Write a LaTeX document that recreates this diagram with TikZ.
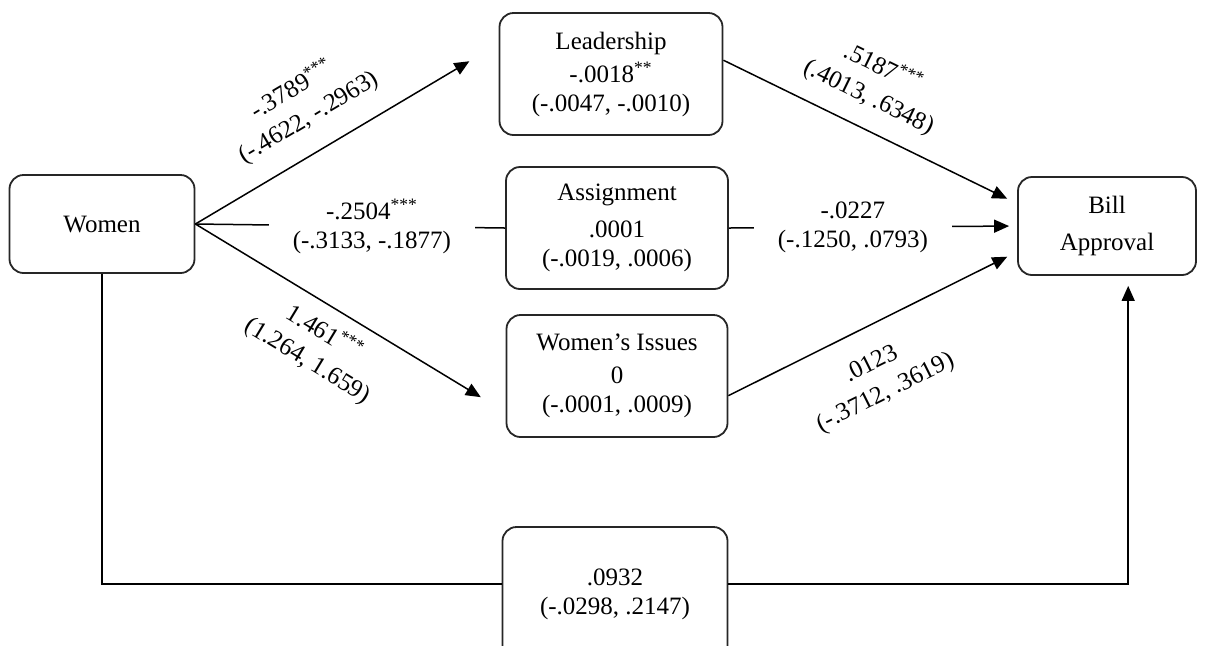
\documentclass[tikz,border=0pt]{standalone}
\usepackage{fontspec}
\setmainfont{Liberation Serif}
\usetikzlibrary{arrows.meta}
\begin{document}
\begin{tikzpicture}[x=0.5pt,y=-0.5pt,
	varbox/.style={rectangle,rounded corners=7pt,draw=black!85,line width=0.9pt,align=center,inner sep=0pt,font=\fontsize{12.5}{14.5}\selectfont},
	coef/.style={align=center,font=\fontsize{12.5}{14.5}\selectfont},
	slopecoef/.style={coef,sloped,font=\fontsize{12.5}{16}\selectfont},
	gap/.style={coef,fill=white,inner xsep=12pt,inner ysep=1pt},
	arr/.style={line width=0.75pt,-{Triangle[length=7.5pt,width=6.5pt]}},
	bare/.style={line width=0.75pt}]
	\useasboundingbox (0,0) rectangle (1208,645);

	\node 	(women)		at	(102,224)	[varbox,minimum width=92.5pt,minimum height=49pt]{Women};
	\node 	(lead)		at	(611,74)	[varbox,minimum width=111.5pt,minimum height=61pt]{Leadership\\[2pt]-.0018\textsuperscript{**}\\(-.0047, -.0010)};
	\node 	(asg)		at	(617,228)	[varbox,minimum width=111pt,minimum height=61pt]{Assignment\\[4pt].0001\\(-.0019, .0006)};
	\node 	(wiss)		at	(617,376)	[varbox,minimum width=110.5pt,minimum height=61pt]{Women’s Issues\\[2pt]0\\(-.0001, .0009)};
	\node 	(bill)		at	(1107,226)	[varbox,minimum width=89pt,minimum height=49pt]{Bill\\[4pt]Approval};
	\node 	(direct)	at	(615,594)	[varbox,minimum width=112.5pt,minimum height=67pt]{.0932\\(-.0298, .2147)};

	\draw[arr,shorten >=17pt] (women.east) -- (lead.165)
		node[slopecoef,above=7pt,pos=.43]{-.3789\textsuperscript{***}\\(-.4622, -.2963)};
	\draw[bare] (women.east) -- (asg.west)
		node[gap,pos=.57]{-.2504\textsuperscript{***}\\(-.3133, -.1877)};
	\draw[arr,shorten >=14.5pt] (women.east) -- (wiss.198)
		node[slopecoef,below=3pt,pos=.46]{1.461\textsuperscript{***}\\(1.264, 1.659)};

	\draw[arr,shorten >=5.5pt] (lead.7) -- (bill.166)
		node[slopecoef,above=5.5pt,pos=.45]{.5187\textsuperscript{***}\\(.4013, .6348)};
	\draw[arr,shorten >=4pt] (asg.east) -- (bill.west)
		node[gap,pos=.43]{-.0227\\(-.1250, .0793)};
	\draw[arr,shorten >=5.5pt] (wiss.-10) -- (bill.196)
		node[slopecoef,below=9pt,pos=.44]{.0123\\(-.3712, .3619)};

	\draw[bare] (women.south) |- (direct.175);
	\draw[arr,shorten >=5pt] (direct.5) -| (bill.-67);

\end{tikzpicture}
\end{document}
